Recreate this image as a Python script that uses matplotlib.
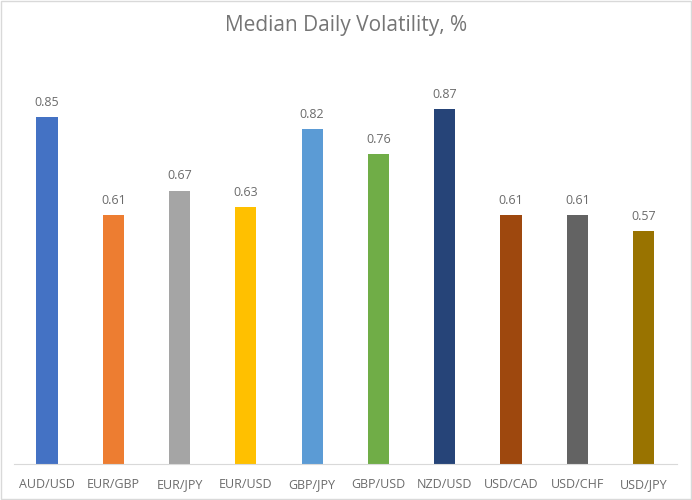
import matplotlib

matplotlib.use("Agg")
import matplotlib.pyplot as plt
from matplotlib.patches import Rectangle

plt.rcParams["font.family"] = ["Open Sans", "DejaVu Sans"]

pairs = ["AUD/USD", "EUR/GBP", "EUR/JPY", "EUR/USD", "GBP/JPY",
         "GBP/USD", "NZD/USD", "USD/CAD", "USD/CHF", "USD/JPY"]
volatility = [0.85, 0.61, 0.67, 0.63, 0.82, 0.76, 0.87, 0.61, 0.61, 0.57]
colors = ["#4472C4", "#ED7D31", "#A5A5A5", "#FFC000", "#5B9BD5",
          "#70AD47", "#264478", "#9E480E", "#636363", "#997300"]

fig = plt.figure(figsize=(6.92, 5.0), dpi=100)
ax = fig.add_axes([0.020, 0.072, 0.958, 0.816])

x = range(len(pairs))
bars = ax.bar(x, volatility, width=0.32, color=colors)
for bar, val in zip(bars, volatility):
    ax.text(bar.get_x() + bar.get_width() / 2, val + 0.02, f"{val:.2f}",
            ha="center", va="bottom", fontsize=9, color="#6B6B6B")

ax.set_xlim(-0.5, len(pairs) - 0.5)
ax.set_ylim(0, 1.0)
ax.set_xticks(list(x))
ax.set_xticklabels(pairs, fontsize=9, color="#6B6B6B")
ax.tick_params(axis="x", length=0, pad=10)
ax.set_yticks([])
for side in ["top", "right", "left"]:
    ax.spines[side].set_visible(False)
ax.spines["bottom"].set_color("#D9D9D9")

fig.text(0.5, 0.948, "Median Daily Volatility, %", ha="center", va="center",
         fontsize=15, color="#757575")

fig.patches.append(Rectangle((0.002, 0.002), 0.996, 0.996, transform=fig.transFigure,
                             fill=False, edgecolor="#D9D9D9", linewidth=1))

fig.savefig("out.png", dpi=100)
